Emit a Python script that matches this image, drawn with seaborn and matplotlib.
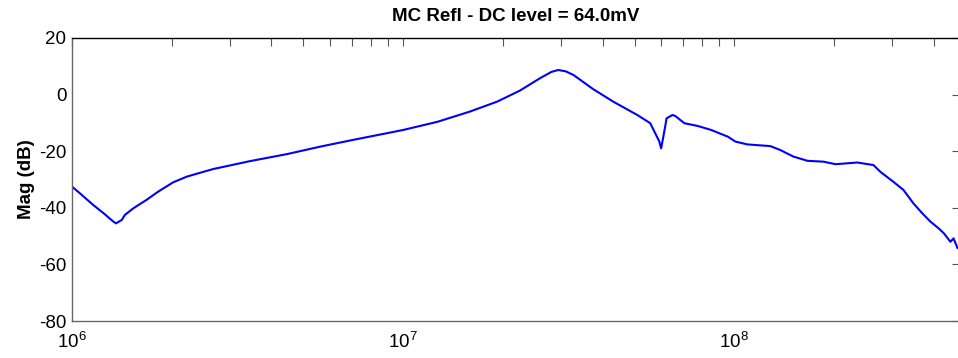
import numpy as np
import pandas as pd
import matplotlib
matplotlib.use("Agg")
import matplotlib.pyplot as plt
import matplotlib.ticker as mticker
import seaborn as sns

# ---- data ----
freq_hz = [
    1.00e6, 1.057e6, 1.159e6, 1.245e6, 1.334e6, 1.358e6, 1.413e6, 1.445e6,
    1.531e6, 1.679e6, 1.82e6, 2.02e6, 2.22e6, 2.44e6, 2.67e6, 3.45e6, 4.47e6,
    5.61e6, 7.06e6, 1.0e7, 1.27e7, 1.59e7, 1.92e7, 2.25e7, 2.59e7, 2.80e7,
    2.94e7, 3.10e7, 3.27e7, 3.75e7, 4.31e7, 5.09e7, 5.57e7, 5.77e7, 5.93e7,
    6.01e7, 6.10e7, 6.18e7, 6.24e7, 6.50e7, 6.64e7, 7.06e7, 7.76e7, 8.51e7,
    9.57e7, 1.007e8, 1.094e8, 1.284e8, 1.377e8, 1.507e8, 1.663e8, 1.858e8,
    2.02e8, 2.35e8, 2.63e8, 2.76e8, 3.02e8, 3.24e8, 3.47e8, 3.69e8, 3.91e8,
    4.14e8, 4.29e8, 4.49e8, 4.59e8, 4.72e8,
]
mag_db = [
    -32.5, -34.9, -39.0, -41.9, -44.9, -45.5, -44.3, -42.5,
    -40.2, -37.2, -34.3, -31.0, -29.0, -27.6, -26.3, -23.5, -21.0,
    -18.4, -16.0, -12.5, -9.6, -6.0, -2.5, 1.4, 5.8, 8.0,
    8.7, 8.2, 6.9, 1.9, -2.5, -7.2, -10.1, -13.7, -16.5,
    -19.0, -15.0, -11.3, -8.4, -7.2, -7.6, -10.1, -11.1, -12.5,
    -14.9, -16.6, -17.6, -18.2, -19.6, -21.9, -23.4, -23.7,
    -24.6, -24.0, -24.9, -27.3, -30.8, -33.7, -38.4, -41.9, -44.9,
    -47.3, -49.0, -52.0, -50.8, -54.3,
]
y_ticks = [-80, -60, -40, -20, 0, 20]
title_text = "MC Refl - DC level = 64.0mV"
y_label = "Mag (dB)"

df = pd.DataFrame({"freq": freq_hz, "mag": mag_db})

sns.set_style("white")
plt.rcParams["font.family"] = ["Liberation Sans", "DejaVu Sans"]
plt.rcParams["mathtext.fontset"] = "custom"
plt.rcParams["mathtext.rm"] = "Liberation Sans"
plt.rcParams["mathtext.it"] = "Liberation Sans"
plt.rcParams["mathtext.bf"] = "Liberation Sans:bold"
plt.rcParams["axes.unicode_minus"] = False

fig = plt.figure(figsize=(9.58, 3.58), dpi=100)
ax = fig.add_axes([72 / 958, 37 / 358, 888 / 958, 283 / 358])

sns.lineplot(data=df, x="freq", y="mag", ax=ax, color=(0, 0, 1),
             linewidth=1.5, estimator=None, sort=False)

ax.set_xscale("log")
ax.set_xlim(1e6, 4.8e8)
ax.set_ylim(-80, 20)
ax.set_yticks(y_ticks)
ax.xaxis.set_major_locator(mticker.LogLocator(base=10, numticks=10))
ax.xaxis.set_minor_locator(mticker.LogLocator(base=10, subs=np.arange(2, 10), numticks=20))
ax.xaxis.set_minor_formatter(mticker.NullFormatter())

ax.tick_params(axis="both", which="both", direction="in", top=True, right=True,
               length=6, width=0.8, color="#555555", labelsize=13.5,
               labelcolor="black")
ax.tick_params(axis="x", which="major", pad=8)
ax.tick_params(axis="y", which="major", pad=4)

for side in ["left", "bottom", "right"]:
    ax.spines[side].set_color("#666666")
    ax.spines[side].set_linewidth(1.0)
ax.spines["top"].set_color("black")
ax.spines["top"].set_linewidth(1.0)

ax.set_xlabel("")
ax.set_ylabel(y_label, fontsize=13.5, fontweight="bold", labelpad=3, color="black")
ax.set_title(title_text, fontsize=13.5, fontweight="bold", pad=12, color="black")

fig.savefig("out.png", dpi=100)
